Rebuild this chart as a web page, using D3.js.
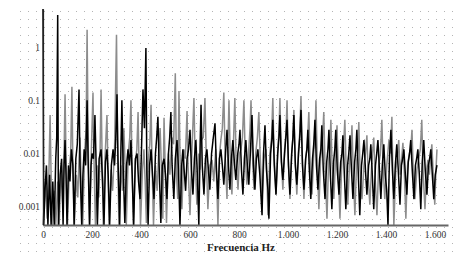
<!DOCTYPE html>
<html>
<head>
<meta charset="utf-8">
<script src="https://cdn.jsdelivr.net/npm/d3@7"></script>
<style>
body { margin: 0; background: #fff; }
svg { display: block; }
.tick text { font-family: "Liberation Serif", "Times New Roman", serif; font-size: 9.5px; fill: #333; }
</style>
</head>
<body>
<script>
// tick values / labels (Spanish thousands separator)
var xTicks = [0, 200, 400, 600, 800, 1000, 1200, 1400, 1600];
var xTickLabels = ["0", "200", "400", "600", "800", "1.000", "1.200", "1.400", "1.600"];
var yTicks = [0.001, 0.01, 0.1, 1];
var yTickLabels = ["0.001", "0.01", "0.1", "1"];

// light spectrum, [Hz, amplitude]
var graySpectrum = [
  [0,0.0004],[10,0.003],[17,0.0006],[24,0.004],[29,0.053],[33,0.004],[38,0.0004],[46,0.002],[52,0.0004],[60,0.003],
  [66,0.0004],[74,0.006],[80,0.0012],[86,0.01],[90,0.13],[94,0.008],[100,0.0004],[108,0.006],[113,0.01],[118,0.18],
  [122,0.006],[128,0.0004],[136,0.004],[142,0.0015],[147,0.008],[151,0.02],[155,0.004],[162,0.0004],[170,0.01],[176,0.03],
  [180,2.1],[184,0.02],[190,0.0004],[197,0.01],[204,0.14],[208,0.008],[214,0.0004],[222,0.006],[228,0.0015],[233,0.012],
  [237,0.16],[241,0.01],[246,0.0004],[253,0.008],[261,0.053],[265,0.006],[270,0.0004],[278,0.005],[284,0.002],[292,0.012],
  [300,1.7],[304,0.015],[310,0.0004],[318,0.006],[324,0.002],[330,0.03],[335,0.006],[340,0.0004],[348,0.01],[354,0.02],
  [359,0.1],[363,0.008],[369,0.0004],[377,0.007],[383,0.012],[388,0.06],[392,0.006],[398,0.0004],[406,0.005],[412,0.012],
  [417,0.003],[422,0.0005],[430,0.008],[436,0.015],[441,0.082],[445,0.007],[451,0.0004],[459,0.006],[466,0.002],[472,0.01],
  [478,0.03],[483,0.006],[489,0.0006],[494,0.047],[498,0.008],[504,0.0005],[512,0.01],[518,0.004],[526,0.02],[533,0.015],
  [540,0.32],[545,0.004],[550,0.0014],[555,0.15],[560,0.006],[567,0.0009],[575,0.012],[581,0.008],[588,0.063],[592,0.006],
  [600,0.0007],[608,0.012],[616,0.11],[620,0.012],[628,0.0011],[636,0.01],[641,0.005],[646,0.018],[654,0.02],[661,0.11],
  [666,0.01],[673,0.0009],[681,0.006],[690,0.0076],[697,0.003],[705,0.012],[714,0.0004],[721,0.01],[726,0.018],[732,0.03],
  [738,0.14],[743,0.01],[751,0.0014],[755,0.015],[759,0.1],[764,0.01],[771,0.0017],[778,0.02],[783,0.11],[788,0.008],
  [796,0.0021],[802,0.01],[808,0.012],[814,0.02],[820,0.1],[825,0.01],[832,0.0026],[840,0.012],[845,0.03],[849,0.1],
  [854,0.012],[861,0.0021],[868,0.01],[875,0.02],[881,0.06],[886,0.01],[894,0.0014],[902,0.008],[910,0.012],[914,0.004],
  [918,0.0007],[926,0.01],[933,0.02],[938,0.11],[943,0.01],[951,0.0017],[958,0.012],[963,0.025],[967,0.11],[972,0.01],
  [979,0.0021],[986,0.012],[992,0.025],[996,0.1],[1001,0.008],[1008,0.0014],[1015,0.01],[1020,0.02],[1024,0.066],[1029,0.008],
  [1036,0.0017],[1043,0.012],[1048,0.025],[1053,0.12],[1058,0.01],[1065,0.0014],[1072,0.008],[1079,0.015],[1085,0.06],[1090,0.008],
  [1098,0.0017],[1105,0.01],[1110,0.02],[1114,0.1],[1119,0.008],[1126,0.0009],[1133,0.008],[1140,0.015],[1146,0.06],[1151,0.006],
  [1159,0.0006],[1166,0.008],[1171,0.012],[1175,0.043],[1180,0.006],[1187,0.0014],[1194,0.008],[1200,0.034],[1205,0.005],[1212,0.0006],
  [1220,0.008],[1226,0.012],[1232,0.043],[1237,0.006],[1244,0.0011],[1252,0.008],[1257,0.012],[1261,0.034],[1266,0.005],[1273,0.0007],
  [1280,0.007],[1285,0.012],[1289,0.039],[1294,0.005],[1302,0.0014],[1310,0.006],[1316,0.01],[1322,0.022],[1327,0.004],[1334,0.0011],
  [1342,0.007],[1350,0.02],[1355,0.004],[1363,0.0007],[1370,0.006],[1377,0.01],[1383,0.043],[1388,0.006],[1395,0.0014],[1403,0.006],
  [1412,0.018],[1418,0.01],[1424,0.049],[1428,0.004],[1432,0.0004],[1440,0.005],[1446,0.008],[1452,0.018],[1458,0.004],[1464,0.008],
  [1469,0.016],[1475,0.004],[1481,0.0006],[1488,0.006],[1495,0.01],[1501,0.012],[1506,0.028],[1511,0.005],[1518,0.0014],[1526,0.005],
  [1533,0.008],[1540,0.012],[1546,0.043],[1551,0.005],[1559,0.0009],[1566,0.005],[1571,0.0076],[1577,0.004],[1582,0.008],[1587,0.015],
  [1593,0.004],[1599,0.0011],[1604,0.005],[1608,0.012]
];

// dark spectrum
var blackSpectrum = [
  [0,5.2],[3,0.0004],[8,0.002],[14,0.006],[20,0.0004],[27,0.004],[33,0.0004],[40,0.003],[46,0.0004],[52,0.008],
  [56,0.02],[60,4.0],[63,0.0004],[70,0.004],[76,0.008],[82,0.0004],[86,0.006],[90,0.018],[94,0.004],[98,0.0004],
  [104,0.006],[110,0.003],[116,0.012],[122,0.006],[127,0.0004],[134,0.008],[140,0.015],[147,0.16],[151,0.006],[158,0.0004],
  [163,0.004],[168,0.012],[174,0.006],[180,0.1],[184,0.008],[190,0.0004],[196,0.006],[200,0.01],[206,0.008],[212,0.053],
  [217,0.006],[222,0.0004],[229,0.008],[237,0.012],[243,0.003],[249,0.0004],[255,0.007],[261,0.012],[266,0.004],[272,0.0004],
  [279,0.006],[286,0.012],[292,0.006],[297,0.02],[302,0.13],[306,0.008],[313,0.0004],[318,0.012],[322,0.1],[327,0.006],
  [334,0.0005],[341,0.006],[347,0.012],[353,0.006],[359,0.018],[364,0.004],[370,0.0004],[377,0.008],[384,0.01],[390,0.003],
  [396,0.0014],[402,0.012],[408,0.16],[414,0.03],[420,0.96],[424,0.004],[429,0.0004],[435,0.006],[441,0.012],[447,0.004],
  [453,0.0014],[459,0.01],[464,0.02],[469,0.049],[474,0.006],[481,0.0005],[487,0.006],[494,0.008],[500,0.004],[506,0.0014],
  [512,0.01],[517,0.02],[522,0.06],[527,0.006],[534,0.0014],[540,0.008],[547,0.018],[553,0.005],[559,0.0004],[566,0.006],
  [571,0.012],[576,0.005],[582,0.002],[588,0.008],[594,0.012],[600,0.028],[606,0.005],[612,0.0017],[618,0.008],[624,0.018],
  [630,0.004],[636,0.0004],[641,0.012],[645,0.082],[650,0.006],[657,0.0017],[663,0.008],[669,0.012],[675,0.005],[681,0.0021],
  [688,0.01],[694,0.018],[702,0.037],[708,0.005],[714,0.0014],[720,0.008],[726,0.012],[732,0.006],[738,0.0026],[745,0.01],
  [751,0.028],[757,0.006],[763,0.0021],[769,0.008],[775,0.018],[781,0.007],[787,0.0032],[795,0.01],[800,0.015],[804,0.028],
  [810,0.005],[816,0.0017],[822,0.008],[828,0.018],[834,0.006],[840,0.0026],[847,0.012],[853,0.053],[859,0.006],[865,0.0021],
  [871,0.008],[877,0.012],[885,0.004],[894,0.0007],[900,0.01],[906,0.034],[912,0.005],[918,0.0021],[922,0.0006],[929,0.01],
  [934,0.018],[938,0.043],[944,0.006],[951,0.0017],[958,0.01],[963,0.02],[967,0.053],[973,0.007],[979,0.0032],[986,0.01],
  [991,0.02],[996,0.043],[1002,0.006],[1008,0.0017],[1015,0.01],[1020,0.02],[1024,0.053],[1030,0.006],[1036,0.0026],[1043,0.01],
  [1048,0.02],[1053,0.066],[1059,0.006],[1065,0.0021],[1072,0.008],[1077,0.012],[1081,0.028],[1087,0.005],[1093,0.0014],[1100,0.008],
  [1105,0.015],[1110,0.043],[1116,0.006],[1122,0.0021],[1129,0.008],[1134,0.012],[1138,0.034],[1144,0.005],[1151,0.0014],[1158,0.007],
  [1163,0.012],[1167,0.028],[1173,0.004],[1179,0.0009],[1186,0.007],[1191,0.012],[1195,0.028],[1201,0.005],[1208,0.0017],[1215,0.007],
  [1220,0.01],[1224,0.022],[1230,0.004],[1236,0.0009],[1243,0.006],[1248,0.01],[1253,0.022],[1259,0.005],[1265,0.0014],[1272,0.007],
  [1277,0.012],[1281,0.028],[1287,0.004],[1293,0.0007],[1300,0.006],[1305,0.01],[1310,0.018],[1316,0.005],[1322,0.0017],[1329,0.006],
  [1334,0.008],[1338,0.015],[1344,0.004],[1350,0.0009],[1357,0.006],[1362,0.01],[1367,0.018],[1373,0.005],[1379,0.0014],[1385,0.006],
  [1391,0.015],[1397,0.004],[1403,0.002],[1408,0.0004],[1414,0.008],[1420,0.028],[1426,0.005],[1432,0.0014],[1438,0.006],[1444,0.015],
  [1450,0.005],[1457,0.0011],[1463,0.006],[1468,0.008],[1473,0.012],[1479,0.004],[1485,0.0017],[1491,0.007],[1496,0.01],[1501,0.018],
  [1507,0.005],[1514,0.0014],[1520,0.006],[1525,0.008],[1530,0.012],[1536,0.004],[1542,0.0009],[1548,0.007],[1554,0.018],[1560,0.005],
  [1567,0.0017],[1573,0.006],[1578,0.008],[1583,0.012],[1589,0.004],[1595,0.0014],[1601,0.004],[1608,0.0061]
];

var width = 453, height = 255;

var svg = d3.select("body").append("svg")
    .attr("width", width)
    .attr("height", height);

// dotted background
var defs = svg.append("defs");
defs.append("pattern")
    .attr("id", "dots")
    .attr("patternUnits", "userSpaceOnUse")
    .attr("x", 4).attr("y", 3)
    .attr("width", 8).attr("height", 8)
  .append("rect")
    .attr("width", 1).attr("height", 1)
    .attr("fill", "#b4b4b4");
svg.append("rect")
    .attr("x", 16).attr("y", 9)
    .attr("width", width - 16).attr("height", height - 9)
    .attr("fill", "url(#dots)");

var x = d3.scaleLinear().domain([0, 1653]).range([43, 448]);
var y = d3.scaleLog().domain([0.000457, 5.16]).range([225, 9]).clamp(true);

var line = d3.line()
    .x(function(d) { return x(d[0]); })
    .y(function(d) { return y(d[1]); });

svg.append("path")
    .datum(graySpectrum)
    .attr("fill", "none")
    .attr("stroke", "#8c8c8c")
    .attr("stroke-width", 1.5)
    .attr("stroke-linejoin", "miter")
    .attr("d", line);

svg.append("path")
    .datum(blackSpectrum)
    .attr("fill", "none")
    .attr("stroke", "#000")
    .attr("stroke-width", 1.5)
    .attr("stroke-linejoin", "miter")
    .attr("d", line);

// axes
var xAxis = d3.axisBottom(x)
    .tickValues(xTicks)
    .tickFormat(function(d, i) { return xTickLabels[i]; })
    .tickSize(0)
    .tickPadding(6);
var gx = svg.append("g")
    .attr("transform", "translate(0,225)")
    .call(xAxis);
gx.select(".domain").attr("stroke", "#666").attr("stroke-width", 2);

var yAxis = d3.axisLeft(y)
    .tickValues(yTicks)
    .tickFormat(function(d, i) { return yTickLabels[i]; })
    .tickSize(0)
    .tickPadding(3);
var gy = svg.append("g")
    .attr("transform", "translate(43,0)")
    .call(yAxis);
gy.select(".domain").attr("stroke", "#222").attr("stroke-width", 1.2);

svg.append("text")
    .attr("x", 241)
    .attr("y", 251)
    .attr("text-anchor", "middle")
    .style("font-family", "'Liberation Serif', 'Times New Roman', serif")
    .style("font-weight", "bold")
    .style("font-size", "11px")
    .style("fill", "#222")
    .text("Frecuencia Hz");
</script>
</body>
</html>
